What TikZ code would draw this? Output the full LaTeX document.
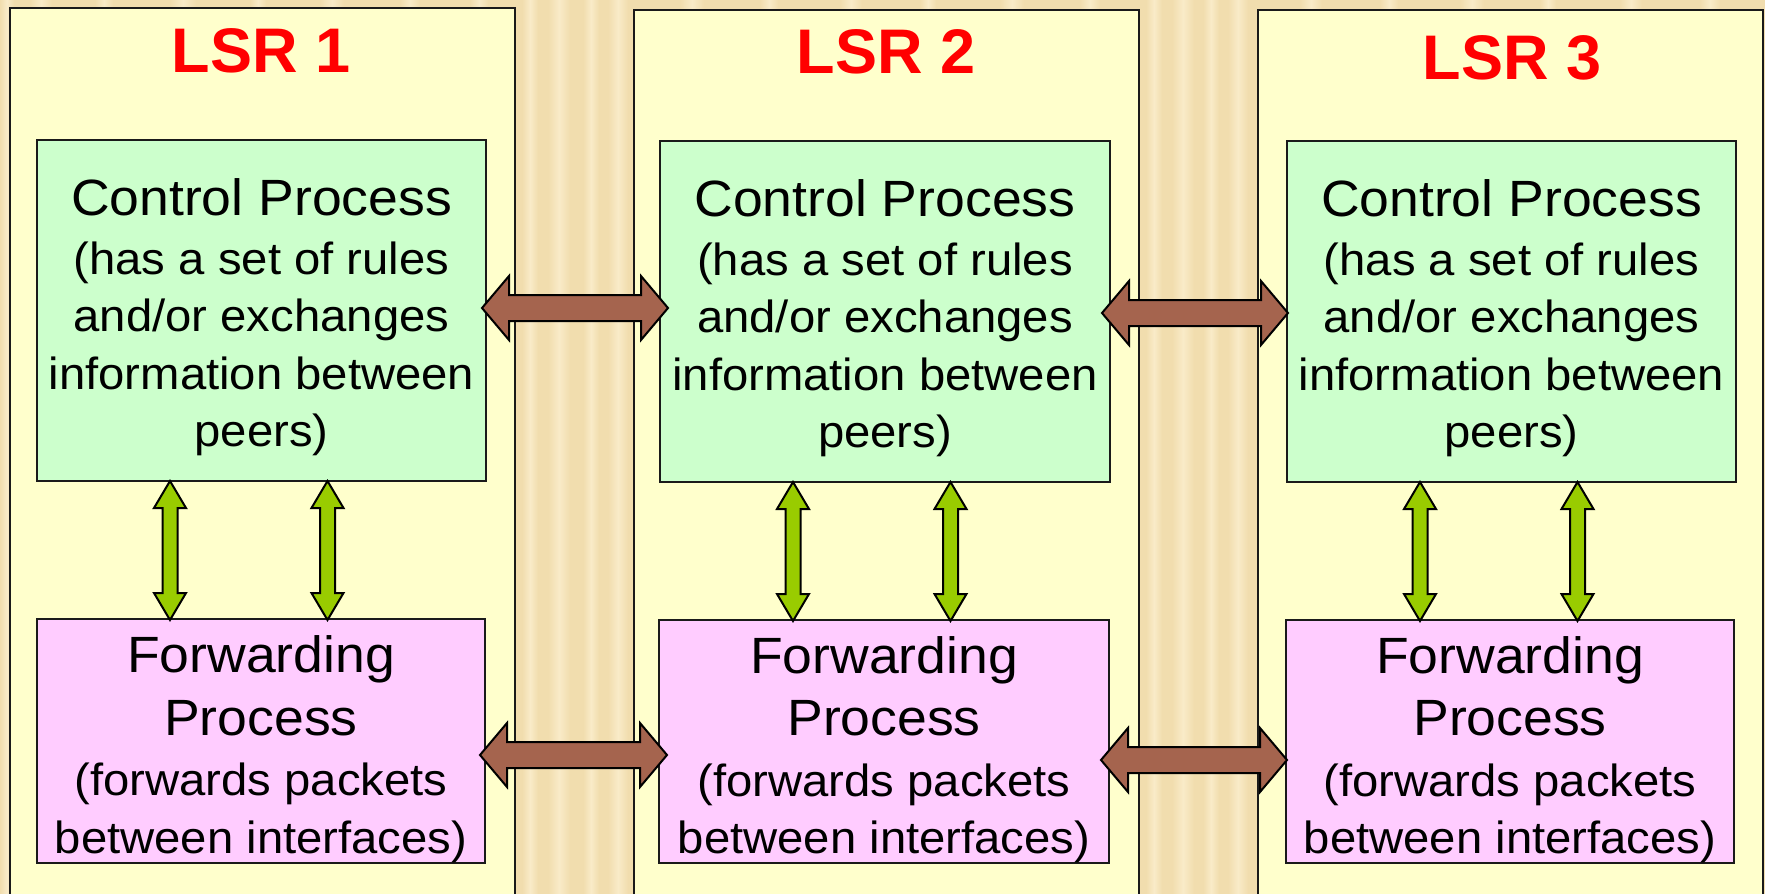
\documentclass[tikz,border=0pt]{standalone}
\usepackage{fontspec}
\setmainfont{Liberation Sans}
\newfontfamily\bodyfont[FakeStretch=1.05]{Liberation Sans}
\usetikzlibrary{calc}
\definecolor{wood}{HTML}{F1DDAE}
\definecolor{woodlight}{HTML}{F9EBC8}
\definecolor{lsrfill}{HTML}{FFFFCC}
\definecolor{ctrlfill}{HTML}{CCFFCC}
\definecolor{fwdfill}{HTML}{FFCCFF}
\definecolor{brownarrow}{HTML}{A5644E}
\definecolor{greenarrow}{HTML}{99CC00}
\definecolor{titlered}{HTML}{FF0000}
\definecolor{edge}{HTML}{1A1A1A}
\newcommand\hdblarrow[3]{%
  \path[#1] let \p1=(#2), \p2=(#3) in
    (\x1,\y1) -- (\x1+27pt,\y1+32pt) -- (\x1+27pt,\y1+13pt) -- (\x2-27pt,\y1+13pt)
    -- (\x2-27pt,\y1+32pt) -- (\x2,\y1) -- (\x2-27pt,\y1-32pt) -- (\x2-27pt,\y1-13pt)
    -- (\x1+27pt,\y1-13pt) -- (\x1+27pt,\y1-32pt) -- cycle;}
\newcommand\vdblarrow[3]{%
  \path[#1] let \p1=(#2), \p2=(#3) in
    (\x1,\y1) -- (\x1+16pt,\y1-27pt) -- (\x1+7.5pt,\y1-27pt) -- (\x1+7.5pt,\y2+27pt)
    -- (\x1+16pt,\y2+27pt) -- (\x1,\y2) -- (\x1-16pt,\y2+27pt) -- (\x1-7.5pt,\y2+27pt)
    -- (\x1-7.5pt,\y1-27pt) -- (\x1-16pt,\y1-27pt) -- cycle;}
\newcommand\bigline{\fontsize{51}{57.5}\selectfont}
\newcommand\ctrltxt{{\bigline Control Process}\\[1pt](has a set of rules\\and/or exchanges\\information between\\peers)}
\newcommand\fwdtxt{{\bigline Forwarding}\\[5pt]{\bigline Process}\\[3pt](forwards packets\\between interfaces)}
\begin{document}
\begin{tikzpicture}[x=1pt,y=-1pt,
  lsrbox/.style={draw=edge, line width=2pt, fill=lsrfill, minimum width=505pt,
    minimum height=950pt, anchor=north west, inner sep=0pt},
  lsrtitle/.style={text=titlered, font=\fontsize{63}{63}\bfseries\selectfont, inner sep=0pt},
  ctrlbox/.style={draw=edge, line width=2pt, fill=ctrlfill, minimum width=449pt,
    minimum height=341pt, inner sep=0pt},
  fwdbox/.style={draw=edge, line width=2pt, fill=fwdfill, minimum width=448pt,
    minimum height=243pt, inner sep=0pt},
  boxtext/.style={align=center, inner sep=0pt, text=black,
    font=\bodyfont\fontsize{45}{57.5}\selectfont},
  brownarr/.style={draw=black, line width=2pt, fill=brownarrow, line join=miter},
  greenarr/.style={draw=black, line width=2pt, fill=greenarrow, line join=miter}]
\useasboundingbox (0,0) rectangle (1765,894);
\clip (0,0) rectangle (1765,894);
% wood background
\fill[wood] (0,0) rectangle (1765,894);
\foreach \sx/\sw in {0/14, 30/22, 95/18, 170/26, 250/16, 320/24, 400/20, 470/18,
  522/16, 548/22, 583/16, 608/20, 680/24, 760/18, 840/22, 920/16, 1000/24, 1080/20,
  1146/16, 1172/22, 1203/16, 1228/20, 1300/22, 1380/18, 1460/24, 1540/16, 1620/22, 1700/20}
  \shade[left color=wood, right color=wood, middle color=woodlight]
    (\sx,0) rectangle (\sx+\sw,894);
% outer LSR boxes
\node[lsrbox] (lsr1) at (9,7) {};
\node[lsrbox] (lsr2) at (633,9) {};
\node[lsrbox] (lsr3) at (1257,9) {};
\node[lsrtitle] (t1) at (261,51) {LSR 1};
\node[lsrtitle] (t2) at (886,52) {LSR 2};
\node[lsrtitle] (t3) at (1512,58) {LSR 3};
% control boxes
\node[ctrlbox] (c1) at (261.5,310.5) {};
\node[ctrlbox, minimum width=450pt] (c2) at (885,311.5) {};
\node[ctrlbox] (c3) at (1511.5,311.5) {};
\foreach \i in {1,2,3}
  \node[boxtext] (c\i t) at ($(c\i.center)+(0,7)$) {\ctrltxt};
% forwarding boxes
\node[fwdbox, minimum height=244pt] (f1) at (261,741) {};
\node[fwdbox, minimum width=450pt] (f2) at (884,741.5) {};
\node[fwdbox] (f3) at (1510,741.5) {};
\foreach \i in {1,2,3}
  \node[boxtext] (f\i t) at ($(f\i.center)+(0,8)$) {\fwdtxt};
% vertical green arrows
\foreach \i in {1,2,3}{
  \coordinate (va\i) at ([xshift=134pt,yshift=1pt]c\i.south west);
  \coordinate (vb\i) at ([xshift=134pt,yshift=-2pt]f\i.north west);
  \coordinate (wa\i) at ([xshift=291.5pt,yshift=1pt]c\i.south west);
  \coordinate (wb\i) at ([xshift=291.5pt,yshift=-2pt]f\i.north west);
  \vdblarrow{greenarr}{va\i}{vb\i}
  \vdblarrow{greenarr}{wa\i}{wb\i}
}
% horizontal brown arrows
\coordinate (h1a) at (482,308);
\coordinate (h1b) at (668,308);
\coordinate (h2a) at (1102,313);
\coordinate (h2b) at (1288,313);
\coordinate (h3a) at (480,755);
\coordinate (h3b) at (667,755);
\coordinate (h4a) at (1101,760);
\coordinate (h4b) at (1287,760);
\hdblarrow{brownarr}{h1a}{h1b}
\hdblarrow{brownarr}{h2a}{h2b}
\hdblarrow{brownarr}{h3a}{h3b}
\hdblarrow{brownarr}{h4a}{h4b}
\end{tikzpicture}
\end{document}
